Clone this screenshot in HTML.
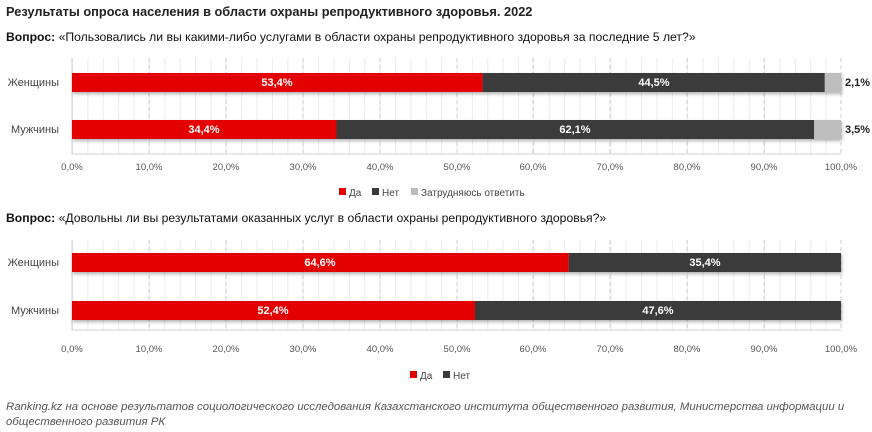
<!DOCTYPE html>
<html><head><meta charset="utf-8"><style>
body{margin:0;width:872px;height:432px;background:#fff;font-family:"Liberation Sans",sans-serif;position:relative;overflow:hidden}
.t{position:absolute;white-space:nowrap}
</style></head><body>
<div class="t" style="left:6px;top:4px;font-size:12.8px;font-weight:bold;color:#222">Результаты опроса населения в области охраны репродуктивного здоровья. 2022</div>
<div class="t" style="left:6px;top:30px;font-size:12.2px;color:#111"><b>Вопрос:</b> «Пользовались ли вы какими-либо услугами в области охраны репродуктивного здоровья за последние 5 лет?»</div>
<div class="t" style="left:6px;top:211px;font-size:12.2px;color:#111"><b>Вопрос:</b> «Довольны ли вы результатами оказанных услуг в области охраны репродуктивного здоровья?»</div>
<svg width="872" height="432" style="position:absolute;left:0;top:0" font-family="Liberation Sans, sans-serif">
<defs>
<pattern id="minor" x="72" y="0" width="15.38" height="432" patternUnits="userSpaceOnUse"><line x1="0.5" y1="0" x2="0.5" y2="432" stroke="#ececec"/></pattern>
<filter id="sh" x="-5%" y="-50%" width="110%" height="200%"><feDropShadow dx="1" dy="2" stdDeviation="1.5" flood-color="#000" flood-opacity="0.3"/></filter>
</defs>
<g>
<rect x="72" y="58" width="769" height="96" fill="url(#minor)"/>
<rect x="72" y="240" width="769" height="90" fill="url(#minor)"/>
<g stroke="#cfcfcf" stroke-dasharray="4,3">
<line x1="149" y1="58" x2="149" y2="154"/><line x1="226" y1="58" x2="226" y2="154"/><line x1="303" y1="58" x2="303" y2="154"/><line x1="380" y1="58" x2="380" y2="154"/><line x1="457" y1="58" x2="457" y2="154"/><line x1="533" y1="58" x2="533" y2="154"/><line x1="610" y1="58" x2="610" y2="154"/><line x1="687" y1="58" x2="687" y2="154"/><line x1="764" y1="58" x2="764" y2="154"/><line x1="841" y1="58" x2="841" y2="154"/>
<line x1="149" y1="240" x2="149" y2="330"/><line x1="226" y1="240" x2="226" y2="330"/><line x1="303" y1="240" x2="303" y2="330"/><line x1="380" y1="240" x2="380" y2="330"/><line x1="457" y1="240" x2="457" y2="330"/><line x1="533" y1="240" x2="533" y2="330"/><line x1="610" y1="240" x2="610" y2="330"/><line x1="687" y1="240" x2="687" y2="330"/><line x1="764" y1="240" x2="764" y2="330"/><line x1="841" y1="240" x2="841" y2="330"/>
</g>
<g stroke="#d0d0d0"><line x1="72" y1="58" x2="72" y2="154"/><line x1="72" y1="154" x2="841" y2="154"/><line x1="72" y1="240" x2="72" y2="330"/><line x1="72" y1="330" x2="841" y2="330"/></g>
</g>
<g filter="url(#sh)">
<rect x="72" y="73" width="410.6" height="19" fill="#e30000"/><rect x="482.6" y="73" width="342.2" height="19" fill="#3b3b3b"/><rect x="824.8" y="73" width="16.2" height="19" fill="#bdbdbd"/>
<rect x="72" y="120" width="264.5" height="19" fill="#e30000"/><rect x="336.5" y="120" width="477.5" height="19" fill="#3b3b3b"/><rect x="814" y="120" width="27" height="19" fill="#bdbdbd"/>
<rect x="72" y="253" width="496.8" height="19" fill="#e30000"/><rect x="568.8" y="253" width="272.2" height="19" fill="#3b3b3b"/>
<rect x="72" y="301" width="403" height="19" fill="#e30000"/><rect x="475" y="301" width="366" height="19" fill="#3b3b3b"/>
</g>
<g font-size="11" font-weight="bold" fill="#fff" text-anchor="middle">
<text x="277" y="86">53,4%</text><text x="654" y="86">44,5%</text>
<text x="204" y="133">34,4%</text><text x="575" y="133">62,1%</text>
<text x="320" y="266">64,6%</text><text x="705" y="266">35,4%</text>
<text x="273" y="314">52,4%</text><text x="658" y="314">47,6%</text>
</g>
<g font-size="11" font-weight="bold" fill="#222"><text x="845" y="86">2,1%</text><text x="845" y="133">3,5%</text></g>
<g font-size="11" fill="#444" text-anchor="end"><text x="59" y="86">Женщины</text><text x="59" y="133">Мужчины</text><text x="59" y="266">Женщины</text><text x="59" y="314">Мужчины</text></g>
<g font-size="9.5" fill="#555" text-anchor="middle">
<text x="72" y="170">0,0%</text><text x="149" y="170">10,0%</text><text x="226" y="170">20,0%</text><text x="303" y="170">30,0%</text><text x="380" y="170">40,0%</text><text x="457" y="170">50,0%</text><text x="533" y="170">60,0%</text><text x="610" y="170">70,0%</text><text x="687" y="170">80,0%</text><text x="764" y="170">90,0%</text><text x="841" y="170">100,0%</text>
<text x="72" y="352">0,0%</text><text x="149" y="352">10,0%</text><text x="226" y="352">20,0%</text><text x="303" y="352">30,0%</text><text x="380" y="352">40,0%</text><text x="457" y="352">50,0%</text><text x="533" y="352">60,0%</text><text x="610" y="352">70,0%</text><text x="687" y="352">80,0%</text><text x="764" y="352">90,0%</text><text x="841" y="352">100,0%</text>
</g>
<g font-size="10" fill="#444">
<rect x="339" y="188" width="7" height="7" fill="#e30000"/><text x="349" y="196">Да</text>
<rect x="372" y="188" width="7" height="7" fill="#3b3b3b"/><text x="382" y="196">Нет</text>
<rect x="411" y="188" width="7" height="7" fill="#bdbdbd"/><text x="421" y="196">Затрудняюсь ответить</text>
<rect x="410" y="371" width="7" height="7" fill="#e30000"/><text x="420" y="379">Да</text>
<rect x="443" y="371" width="7" height="7" fill="#3b3b3b"/><text x="453" y="379">Нет</text>
</g>
<g font-size="11.4" font-style="italic" fill="#555">
<text x="6" y="410">Ranking.kz на основе результатов социологического исследования Казахстанского института общественного развития, Министерства информации и</text>
<text x="6" y="425">общественного развития РК</text>
</g>
</svg>
</body></html>
